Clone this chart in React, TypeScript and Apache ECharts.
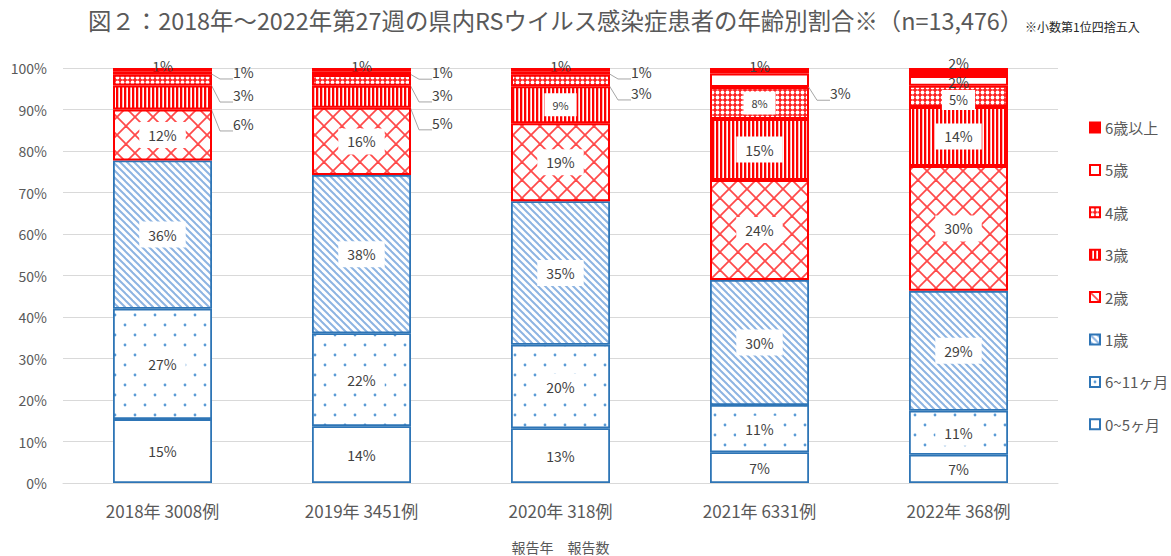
import React, { useEffect, useRef } from 'react';
import * as echarts from 'echarts';

// ---- data ----
const categories = ['2018年 3008例', '2019年 3451例', '2020年 318例', '2021年 6331例', '2022年 368例'];
const ageGroups = ['0~5ヶ月', '6~11ヶ月', '1歳', '2歳', '3歳', '4歳', '5歳', '6歳以上'];
const m0to5 = [15.4, 13.7, 13.2, 7.4, 6.8];
const m6to11 = [26.6, 22.4, 20.1, 11.4, 10.6];
const age1 = [35.7, 38.1, 34.6, 30.1, 28.9];
const age2 = [12.3, 16.2, 18.8, 24.1, 30.1];
const age3 = [5.8, 5.3, 8.9, 14.7, 14.2];
const age4 = [2.6, 2.6, 2.8, 7.7, 5.1];
const age5 = [0.8, 0.9, 0.8, 3.3, 2.4];
const age6plus = [0.8, 0.8, 0.8, 1.3, 1.9];
const seriesValues = [m0to5, m6to11, age1, age2, age3, age4, age5, age6plus];

const titleText = '図２：2018年～2022年第27週の県内RSウイルス感染症患者の年齢別割合※（n=13,476）';
const noteText = '※小数第1位四捨五入';
const xAxisName = '報告年　報告数';

// ---- styles ----
const FONT = "'Noto Sans CJK JP', 'Noto Sans', sans-serif";
const BLUE = '#2E75B6';
const RED = '#FF0000';
const TXT = '#404040';
const AXIS_TXT = '#595959';

// label mode per series per category
const labelModes: string[][] = [
  ['plain', 'plain', 'plain', 'plain', 'plain'],
  ['box', 'box', 'box', 'box', 'box'],
  ['box', 'box', 'box', 'box', 'box'],
  ['box', 'box', 'box', 'box', 'box'],
  ['callout', 'callout', 'small', 'box', 'box'],
  ['callout', 'callout', 'callout', 'small', 'mid'],
  ['callout', 'callout', 'callout', 'callout', 'plain'],
  ['top', 'top', 'top', 'top', 'top'],
];
const labelShift: number[][] = [
  [], [], [], [],
  [26.5, 26, 0, 0, 0],
  [15, 14.5, 12.5, 0, 3.5],
  [-1, -1, -1, 13, 1],
  [0, 0, 0, 0, -3.5],
];
const seriesZ = [2, 2, 2, 2, 2, 2, 4, 3];

function pat(w: number, h: number, draw: (ctx: CanvasRenderingContext2D) => void) {
  const c = document.createElement('canvas');
  c.width = w;
  c.height = h;
  const ctx = c.getContext('2d')!;
  ctx.fillStyle = '#ffffff';
  ctx.fillRect(0, 0, w, h);
  draw(ctx);
  return { image: c.toDataURL(), repeat: 'repeat', imageWidth: w, imageHeight: h };
}

function buildPatterns() {
  const dots = pat(20, 20, (ctx) => {
    ctx.fillStyle = '#5B9BD5';
    [[5, 5], [15, 15]].forEach(([x, y]) => {
      ctx.beginPath();
      ctx.arc(x, y, 1.4, 0, Math.PI * 2);
      ctx.fill();
    });
  });
  const diag = pat(7, 7, (ctx) => {
    ctx.strokeStyle = '#8DB4E2';
    ctx.lineWidth = 2;
    [-7, 0, 7].forEach((k) => {
      ctx.beginPath();
      ctx.moveTo(k - 1, -1);
      ctx.lineTo(k + 8, 8);
      ctx.stroke();
    });
  });
  const lattice = pat(18, 18, (ctx) => {
    ctx.strokeStyle = '#FF4A4A';
    ctx.lineWidth = 1.8;
    [-18, 0, 18].forEach((k) => {
      ctx.beginPath();
      ctx.moveTo(k - 1, -1);
      ctx.lineTo(k + 19, 19);
      ctx.stroke();
      ctx.beginPath();
      ctx.moveTo(k + 19, -1);
      ctx.lineTo(k - 1, 19);
      ctx.stroke();
    });
  });
  const vert = pat(4, 4, (ctx) => {
    ctx.fillStyle = RED;
    ctx.fillRect(0, 0, 2.3, 4);
  });
  const ring = pat(5, 5, (ctx) => {
    ctx.fillStyle = '#FF2020';
    ctx.fillRect(0, 0, 5, 5);
    ctx.fillStyle = '#ffffff';
    ctx.beginPath();
    ctx.arc(2.5, 2.5, 1.9, 0, Math.PI * 2);
    ctx.fill();
  });
  return { dots, diag, lattice, vert, ring };
}

const fmt = (p: any) => Math.round(p.value) + '%';

function labelFor(mode: string, dy: number) {
  const base = { show: true, color: TXT, fontFamily: FONT, fontSize: 14, formatter: fmt };
  switch (mode) {
    case 'box':
      return { ...base, position: 'inside', backgroundColor: '#ffffff', padding: [6, 9] };
    case 'small':
      return { ...base, position: 'inside', fontSize: 11, backgroundColor: '#ffffff', padding: [6, 8] };
    case 'mid':
      return { ...base, position: 'inside', fontSize: 13, backgroundColor: '#ffffff', padding: [3, 7, 4, 7], offset: [0, dy] };
    case 'callout':
      return { ...base, position: 'right', distance: 16, padding: [0, 0, 0, 5], offset: [0, dy] };
    case 'top':
      return { ...base, position: 'top', distance: -5, offset: [0, dy] };
    default:
      return { ...base, position: 'inside', offset: [0, dy] };
  }
}

export default function App() {
  const ref = useRef<HTMLDivElement>(null);
  useEffect(() => {
    const chart = echarts.init(ref.current!, null, { renderer: 'svg' });
    const P = buildPatterns();
    const fills: any[] = ['#ffffff', P.dots, P.diag, P.lattice, P.vert, P.ring, '#ffffff', RED];
    const borders = [BLUE, BLUE, BLUE, RED, RED, RED, RED, RED];

    const series = ageGroups.map((name, si) => ({
      name,
      type: 'bar',
      stack: 'total',
      barWidth: 99,
      z: seriesZ[si],
      itemStyle: { color: fills[si], borderColor: borders[si], borderWidth: si < 3 ? 1.8 : 2 },
      data: seriesValues[si].map((v, ci) => {
        const mode = labelModes[si][ci];
        const item: any = { value: v, label: labelFor(mode, (labelShift[si] || [])[ci] || 0) };
        if (mode === 'callout') {
          item.labelLine = { show: true, length2: 13, smooth: false, lineStyle: { color: '#A6A6A6', width: 1 } };
        }
        return item;
      }),
    }));

    chart.setOption({
      animation: false,
      backgroundColor: '#ffffff',
      title: [
        {
          text: titleText,
          left: 88,
          top: 8,
          padding: 0,
          textStyle: { fontFamily: FONT, fontSize: 23.4, fontWeight: 'normal', color: AXIS_TXT },
        },
        {
          text: noteText,
          left: 1025,
          top: 20,
          padding: 0,
          textStyle: { fontFamily: FONT, fontSize: 12, fontWeight: 'normal', color: '#262626' },
        },
      ],
      legend: {
        orient: 'vertical',
        left: 1089,
        top: 120,
        itemWidth: 10,
        itemHeight: 10,
        itemGap: 27.4,
        icon: 'rect',
        padding: 0,
        selectedMode: false,
        data: [...ageGroups].reverse(),
        textStyle: { fontFamily: FONT, fontSize: 15, lineHeight: 15, color: AXIS_TXT },
      },
      grid: { left: 63, right: 113, top: 68, bottom: 73, outerBoundsMode: 'none' },
      xAxis: {
        type: 'category',
        data: categories,
        axisLine: { lineStyle: { color: '#D9D9D9', width: 1 } },
        axisTick: { show: false },
        axisLabel: { fontFamily: FONT, fontSize: 17, color: AXIS_TXT, margin: 19 },
        name: xAxisName,
        nameLocation: 'middle',
        nameGap: 57,
        nameTextStyle: { fontFamily: FONT, fontSize: 14, color: AXIS_TXT },
      },
      yAxis: {
        type: 'value',
        min: 0,
        max: 100,
        interval: 10,
        axisLine: { show: false },
        axisTick: { show: false },
        splitLine: { lineStyle: { color: '#D9D9D9', width: 1 } },
        axisLabel: { fontFamily: FONT, fontSize: 14, color: AXIS_TXT, margin: 16, formatter: '{value}%' },
      },
      series,
    });
    return () => chart.dispose();
  }, []);
  return (
    <div
      ref={ref}
      style={{ position: 'fixed', left: 0, top: 0, width: 1171, height: 556, background: '#fff' }}
    />
  );
}
